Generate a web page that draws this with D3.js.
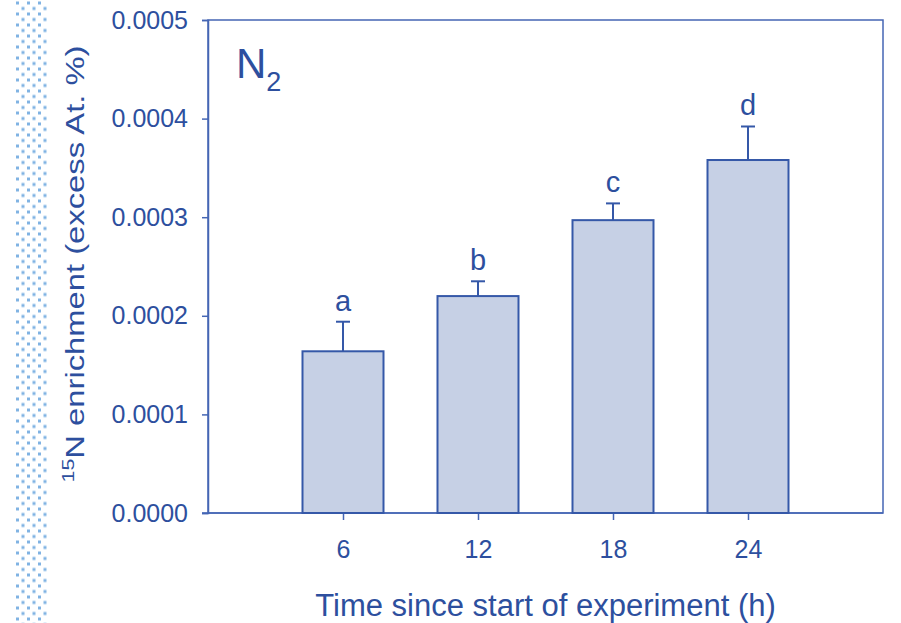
<!DOCTYPE html>
<html>
<head>
<meta charset="utf-8">
<script src="https://cdn.jsdelivr.net/npm/d3@7"></script>
<style>
  html, body { margin: 0; padding: 0; background: #ffffff; }
  #chart { width: 901px; height: 623px; }
  text { font-family: "Liberation Sans", Arial, sans-serif; fill: #2d4f9e; }
</style>
</head>
<body>
<div id="chart"></div>
<script>
////////////////////////////// DATA ////////////////////////////////////

// Sampling times (h)
const hours = [6, 12, 18, 24];

// Mean 15N enrichment (excess At. %)
const enrichment = [0.000164, 0.00022, 0.000297, 0.000358];

// Standard error (upper whisker only)
const errors = [0.00003, 0.000015, 0.000017, 0.000034];

// Significance letters
const letters = ["a", "b", "c", "d"];

// Axis ticks
const yTicks = [0, 0.0001, 0.0002, 0.0003, 0.0004, 0.0005];

////////////////////////////// SET UP ////////////////////////////////////

const width = 901;
const height = 623;
const margin = { top: 20, right: 18, bottom: 110, left: 208 };

const axisColor = "#4566b4";
const barStroke = "#3558a8";
const barFill = "#c6d0e5";

const svg = d3
  .select("#chart")
  .append("svg")
  .attr("width", width)
  .attr("height", height);

// Dotted strip on the left edge
const defs = svg.append("defs");
const pattern = defs
  .append("pattern")
  .attr("id", "dots")
  .attr("patternUnits", "userSpaceOnUse")
  .attr("x", 16)
  .attr("y", 1.5)
  .attr("width", 11)
  .attr("height", 11);
pattern.append("rect").attr("x", 0).attr("y", 0).attr("width", 3).attr("height", 3).attr("fill", "#6aa6de");
pattern.append("rect").attr("x", 5.5).attr("y", 5.5).attr("width", 3).attr("height", 3).attr("fill", "#6aa6de");

svg
  .append("rect")
  .attr("x", 16)
  .attr("y", 0)
  .attr("width", 32)
  .attr("height", height)
  .attr("fill", "url(#dots)")
  .attr("opacity", 0.85);

////////////////////////////// SCALES ////////////////////////////////////

const x = d3
  .scaleLinear()
  .domain([0, 30])
  .range([margin.left, width - margin.right]);

const y = d3
  .scaleLinear()
  .domain([0, 0.0005])
  .range([height - margin.bottom, margin.top]);

const barWidth = x(3.6) - x(0);

////////////////////////////// FRAME AND AXES ////////////////////////////////////

// box round the plot
svg
  .append("rect")
  .attr("x", x(0))
  .attr("y", y(0.0005))
  .attr("width", x(30) - x(0))
  .attr("height", y(0) - y(0.0005))
  .attr("fill", "none")
  .attr("stroke", axisColor)
  .attr("stroke-width", 1.5);

const yAxis = svg
  .append("g")
  .attr("transform", `translate(${x(0)},0)`)
  .call(
    d3.axisLeft(y)
      .tickValues(yTicks)
      .tickFormat(d3.format(".4f"))
      .tickSize(6)
      .tickPadding(14)
  );

const xAxis = svg
  .append("g")
  .attr("transform", `translate(0,${y(0)})`)
  .call(
    d3.axisBottom(x)
      .tickValues(hours)
      .tickSize(7)
      .tickPadding(20)
  );

[xAxis, yAxis].forEach((g) => {
  g.select(".domain").attr("stroke", axisColor).attr("stroke-width", 1.5);
  g.selectAll(".tick line").attr("stroke", axisColor).attr("stroke-width", 1.5);
  g.selectAll(".tick text")
    .attr("fill", "#2d4f9e")
    .style("font-family", '"Liberation Sans", Arial, sans-serif')
    .style("font-size", "25px");
});

// x axis extends left across the y tick
xAxis.select(".domain").attr("d", `M${x(0) - 6},0H${x(30)}`);

////////////////////////////// BARS ////////////////////////////////////

const data = hours.map((h, i) => ({
  hour: h,
  value: enrichment[i],
  err: errors[i],
  letter: letters[i],
}));

const bars = svg.append("g");

// whiskers first so the bar outline sits on top
bars
  .selectAll(".whisker")
  .data(data)
  .join("line")
  .attr("class", "whisker")
  .attr("x1", (d) => x(d.hour))
  .attr("x2", (d) => x(d.hour))
  .attr("y1", (d) => y(d.value))
  .attr("y2", (d) => y(d.value + d.err))
  .attr("stroke", barStroke)
  .attr("stroke-width", 2);

bars
  .selectAll(".cap")
  .data(data)
  .join("line")
  .attr("class", "cap")
  .attr("x1", (d) => x(d.hour) - 7)
  .attr("x2", (d) => x(d.hour) + 7)
  .attr("y1", (d) => y(d.value + d.err))
  .attr("y2", (d) => y(d.value + d.err))
  .attr("stroke", barStroke)
  .attr("stroke-width", 2);

bars
  .selectAll(".bar")
  .data(data)
  .join("rect")
  .attr("class", "bar")
  .attr("x", (d) => x(d.hour) - barWidth / 2)
  .attr("y", (d) => y(d.value))
  .attr("width", barWidth)
  .attr("height", (d) => y(0) - y(d.value))
  .attr("fill", barFill)
  .attr("stroke", barStroke)
  .attr("stroke-width", 2);

bars
  .selectAll(".letter")
  .data(data)
  .join("text")
  .attr("class", "letter")
  .attr("x", (d) => x(d.hour))
  .attr("y", (d) => y(d.value + d.err) - 11)
  .attr("text-anchor", "middle")
  .style("font-size", "29px")
  .text((d) => d.letter);

////////////////////////////// LABELS ////////////////////////////////////

// N2 panel label
const panel = svg
  .append("text")
  .attr("x", 236)
  .attr("y", 78)
  .style("font-size", "42px");
panel.append("tspan").text("N");
panel.append("tspan").attr("dy", 13).style("font-size", "27px").text("2");

// x axis title
svg
  .append("text")
  .attr("x", (x(0) + x(30)) / 2)
  .attr("y", 616)
  .attr("text-anchor", "middle")
  .style("font-size", "31px")
  .text("Time since start of experiment (h)");

// y axis title, stretched along its length like the original
const yTitle = svg
  .append("text")
  .attr("transform", `translate(84,264) rotate(-90)`)
  .attr("text-anchor", "middle")
  .attr("textLength", 437)
  .attr("lengthAdjust", "spacingAndGlyphs")
  .style("font-size", "26px");
yTitle.append("tspan").attr("dy", -10).style("font-size", "17px").text("15");
yTitle.append("tspan").attr("dy", 10).text("N enrichment (excess At. %)");
</script>
</body>
</html>
